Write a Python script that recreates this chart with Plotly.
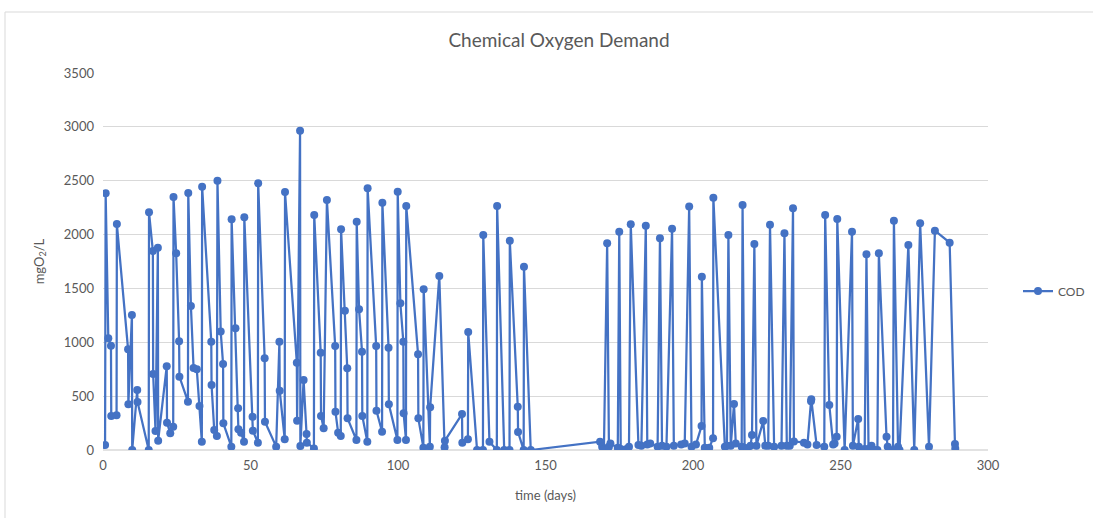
import plotly.graph_objects as go

# Chemical Oxygen Demand samples (time in days, COD in mgO2/L)
days = [
    0.7, 0.9, 1.8, 2.7, 2.8, 4.6, 4.7, 8.5, 8.6, 9.8, 9.9, 11.6, 11.7, 15.5, 15.6,
    16.9, 17.0, 17.8, 18.6, 18.7, 21.6, 21.7, 22.8, 23.8, 23.9, 24.8, 25.8, 25.9,
    28.8, 28.9, 29.8, 30.7, 31.8, 32.7, 33.5, 33.6, 36.7, 36.8, 37.7, 38.6, 38.8,
    39.9, 40.7, 40.8, 43.5, 43.6, 44.9, 45.8, 45.9, 46.8, 47.8, 47.9, 50.7, 50.8,
    52.5, 52.6, 54.8, 54.9, 58.7, 59.8, 59.9, 61.6, 61.7, 65.7, 65.8, 66.8, 66.9,
    68.0, 69.0, 69.1, 71.5, 71.6, 73.8, 73.9, 74.8, 75.9, 78.7, 78.8, 79.7, 80.6,
    80.7, 82.0, 82.8, 82.9, 85.9, 86.0, 86.8, 87.8, 87.9, 89.6, 89.7, 92.6, 92.7,
    94.6, 94.7, 96.8, 96.9, 99.8, 99.9, 100.8, 101.8, 101.9, 102.7, 102.8, 106.8,
    106.9, 108.6, 108.7, 110.8, 110.9, 114.0, 115.8, 115.9, 121.7, 121.8, 123.7,
    123.8, 126.8, 128.8, 128.9, 131.0, 133.5, 133.6, 136.0, 137.8, 137.9, 140.6,
    140.7, 142.6, 142.7, 145.0,
    168.5, 169.2, 169.8, 170.9, 171.5, 172.0, 174.5, 175.0, 175.5, 176.5, 177.5,
    178.3, 178.9, 181.5, 182.5, 184.0, 184.5, 185.5, 188.0, 188.8, 189.5, 191.0,
    192.9, 193.5, 196.0, 197.2, 198.7, 199.5, 201.0, 202.9, 203.0, 204.0, 205.5,
    206.8, 206.9, 210.8, 211.5, 212.0, 212.8, 213.9, 214.5, 216.5, 216.8, 217.5,
    218.5, 219.5, 220.0, 220.8, 221.5, 223.8, 224.5, 225.5, 226.1, 227.5, 230.0,
    231.0, 231.8, 232.8, 233.9, 234.2, 237.6, 238.8, 240.0, 240.1, 241.9, 244.5,
    244.8, 246.2, 247.5, 248.0, 248.7, 248.9, 251.4, 253.9, 254.2, 256.0, 256.2,
    258.2, 258.8, 259.5, 260.5, 261.5, 262.5, 263.0, 265.6, 266.0, 267.8, 268.1,
    269.5, 270.0, 273.0, 275.0, 277.0, 280.0, 282.0, 287.0, 288.8, 288.9,
]
cod = [
    46, 2383, 1037, 968, 316, 322, 2098, 935, 424, 1253, 0, 557, 446, 0, 2207,
    1848, 706, 176, 1878, 86, 777, 254, 155, 217, 2349, 1826, 1009, 681,
    449, 2386, 1337, 761, 749, 408, 77, 2445, 1006, 603, 186, 130, 2500,
    1099, 798, 248, 31, 2142, 1130, 387, 192, 161, 77, 2160, 309, 179,
    68, 2476, 851, 263, 31, 1006, 551, 99, 2395, 811, 272, 2965, 37,
    650, 149, 68, 15, 2182, 904, 316, 201, 2321, 966, 356, 161, 130,
    2049, 1293, 758, 294, 93, 2120, 1306, 913, 316, 77, 2430, 966, 365,
    170, 2296, 950, 424, 93, 2398, 1362, 1006, 341, 93, 2266, 888,
    294, 22, 1492, 31, 396, 1616, 25, 87, 334, 68, 99,
    1096, 0, 0, 1996, 77, 0, 2266, 0, 0, 1943, 402,
    167, 0, 1702, 0,
    77, 30, 5, 1919, 30, 60, 20, 2027, 10, 0, 10,
    30, 2096, 46, 40, 2083, 50, 60, 30, 1966, 40, 30,
    2055, 40, 50, 60, 2260, 30, 50, 223, 1609, 20, 20,
    108, 2343, 30, 40, 1996, 40, 427, 60, 30, 2275, 20,
    10, 40, 139, 1913, 40, 269, 40, 40, 2092, 30, 40,
    2012, 40, 40, 2244, 80, 68, 50, 452, 470, 46, 30,
    2182, 418, 50, 60, 124, 2145, 0, 2027, 40, 288, 30,
    10, 1817, 10, 40, 0, 0, 1826, 124, 30, 0, 2129,
    30, 0, 1904, 0, 2105, 31, 2036, 1925, 56, 15,
]

x_ticks = [0, 50, 100, 150, 200, 250, 300]
y_ticks = [0, 500, 1000, 1500, 2000, 2500, 3000, 3500]

W, H = 1093, 518
L, R, T, B = 103, 988, 73, 450

FONT = "Lato, Calibri, Carlito, sans-serif"
GRAY = "#595959"
BLUE = "#4472C4"

fig = go.Figure()
fig.add_trace(go.Scatter(
    x=days, y=cod, name="COD", mode="lines+markers",
    line=dict(color=BLUE, width=2.25),
    marker=dict(color=BLUE, size=8, symbol="circle"),
))

def px_x(p):
    return (p - L) / (R - L)

def px_y(p):
    return (B - p) / (B - T)

fig.update_layout(
    width=W, height=H,
    margin=dict(l=L, r=W - R, t=T, b=H - B, autoexpand=False),
    paper_bgcolor="white", plot_bgcolor="white",
    font=dict(family=FONT, color=GRAY, size=13),
    title=dict(text="Chemical Oxygen Demand", x=559 / W, xanchor="center",
               y=1 - 40 / H, yanchor="middle",
               font=dict(family=FONT, size=19, color=GRAY)),
    xaxis=dict(range=[0, 300], tickvals=x_ticks, showgrid=False,
               zeroline=False, showline=False, ticks="",
               ticklabelstandoff=6,
               title=dict(text="time (days)", standoff=18,
                          font=dict(family=FONT, size=13, color=GRAY)),
               tickfont=dict(family=FONT, size=13, color=GRAY)),
    yaxis=dict(range=[0, 3500], tickvals=y_ticks, showgrid=True,
               gridcolor="#d9d9d9", gridwidth=1, zeroline=False,
               showline=False, ticks="",
               ticklabelstandoff=8,
               title=dict(text="mgO<sub>2</sub>/L", standoff=16,
                          font=dict(family=FONT, size=13, color=GRAY)),
               tickfont=dict(family=FONT, size=13, color=GRAY)),
    showlegend=True,
    legend=dict(x=px_x(1018), y=px_y(291), xanchor="left", yanchor="middle",
                itemwidth=30,
                font=dict(family=FONT, size=12, color=GRAY),
                bgcolor="rgba(0,0,0,0)"),
    shapes=[
        # x axis baseline
        dict(type="line", xref="paper", yref="paper", x0=0, x1=1, y0=0, y1=0,
             line=dict(color="#d9d9d9", width=1.5), layer="below"),
        # chart border (left and top visible)
        dict(type="line", xref="paper", yref="paper", x0=px_x(5), x1=px_x(5),
             y0=px_y(12), y1=px_y(H + 5), line=dict(color="#d9d9d9", width=1)),
        dict(type="line", xref="paper", yref="paper", x0=px_x(5), x1=px_x(W + 5),
             y0=px_y(12), y1=px_y(12), line=dict(color="#d9d9d9", width=1)),
    ],
)

fig.write_html("out.html")
